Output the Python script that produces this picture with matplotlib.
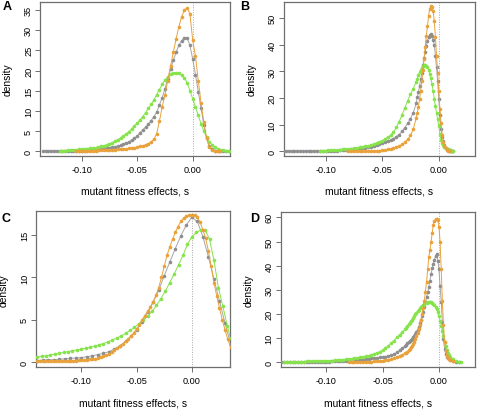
import numpy as np
import matplotlib
matplotlib.use("Agg")
from matplotlib import pyplot as plt

nan = np.nan

# ---------------- panel A ----------------
A_S = [-0.135, -0.1325, -0.13, -0.1275, -0.125, -0.1225, -0.12, -0.1175, -0.115, -0.1125,
       -0.11, -0.1075, -0.105, -0.1025, -0.1, -0.0975, -0.095, -0.0925, -0.09, -0.0875,
       -0.085, -0.0825, -0.08, -0.0775, -0.075, -0.0725, -0.07, -0.0675, -0.065, -0.0625,
       -0.06, -0.0575, -0.055, -0.0525, -0.05, -0.0475, -0.045, -0.0425, -0.04, -0.0375,
       -0.035, -0.0325, -0.03, -0.0275, -0.025, -0.0225, -0.02, -0.0175, -0.015, -0.0125,
       -0.01, -0.0075, -0.005, -0.0025, 0.0, 0.0025, 0.005, 0.0075, 0.01, 0.0125,
       0.015, 0.0175, 0.02, 0.0225, 0.025, 0.0275, 0.03, 0.0325]
A_orange = [nan, nan, nan, nan, nan, nan, nan, nan, nan, nan,
            nan, nan, 0.1, 0.1, 0.1, 0.15, 0.15, 0.2, 0.2, 0.2,
            0.25, 0.25, 0.3, 0.3, 0.35, 0.4, 0.4, 0.45, 0.5, 0.55,
            0.6, 0.7, 0.8, 0.9, 1.0, 1.2, 1.4, 1.6, 1.9, 2.3,
            3.0, 4.3, 7.5, 11.0, 14.0, 17.5, 21.0, 24.5, 27.8, 30.8,
            33.3, 35.0, 35.5, 34.0, 27.5, 23.5, 17.5, 12.0, 7.3, 3.2,
            1.0, 0.3, 0.1, 0.05, 0.0, nan, nan, nan]
A_gray = [0.05, 0.05, 0.05, 0.05, 0.08, 0.08, 0.1, 0.1, 0.1, 0.1,
          0.12, 0.12, 0.14, 0.15, 0.17, 0.2, 0.22, 0.25, 0.3, 0.35,
          0.4, 0.45, 0.55, 0.7, 0.85, 1.0, 1.1, 1.25, 1.45, 1.7,
          2.0, 2.4, 2.75, 3.2, 3.8, 4.6, 5.3, 6.0, 6.7, 7.6,
          8.6, 9.7, 11.5, 13.3, 15.5, 17.9, 20.3, 22.5, 24.5, 26.2,
          27.4, 28.1, 28.1, 26.2, 22.8, 19.0, 14.8, 10.6, 6.6, 3.2,
          1.3, 0.5, 0.2, 0.1, 0.05, 0.0, 0.0, 0.0]
A_green = [nan, nan, nan, nan, nan, nan, 0.1, 0.15, 0.2, 0.25,
           0.3, 0.35, 0.4, 0.45, 0.5, 0.55, 0.6, 0.7, 0.8, 0.9,
           1.05, 1.2, 1.4, 1.6, 1.85, 2.15, 2.5, 2.9, 3.3, 3.8,
           4.3, 4.9, 5.6, 6.3, 7.0, 7.8, 8.6, 9.6, 10.6, 11.6,
           12.7, 14.0, 15.3, 16.6, 17.6, 18.5, 19.1, 19.4, 19.5, 19.4,
           19.0, 18.2, 16.9, 15.0, 13.0, 11.0, 8.9, 6.8, 5.0, 3.5,
           2.4, 1.6, 1.0, 0.6, 0.4, 0.3, 0.2, 0.2]

# ---------------- panel B ----------------
B_S = [-0.14, -0.1375, -0.135, -0.1325, -0.13, -0.1275, -0.125, -0.1225, -0.12, -0.1175,
       -0.115, -0.1125, -0.11, -0.1075, -0.105, -0.1025, -0.1, -0.0975, -0.095, -0.0925,
       -0.09, -0.0875, -0.085, -0.0825, -0.08, -0.0775, -0.075, -0.0725, -0.07, -0.0675,
       -0.065, -0.0625, -0.06, -0.0575, -0.055, -0.0525, -0.05, -0.0475, -0.045, -0.0425,
       -0.04, -0.0375, -0.035, -0.0325, -0.03, -0.0275, -0.025, -0.0225, -0.02,
       -0.019, -0.018, -0.017, -0.016, -0.015, -0.014, -0.013, -0.012, -0.011, -0.01,
       -0.009, -0.008, -0.007, -0.006, -0.005, -0.004, -0.003, -0.002, -0.001, 0.0,
       0.001, 0.002, 0.003, 0.004, 0.005, 0.006, 0.007, 0.008, 0.009, 0.01,
       0.011, 0.012, 0.013]
B_orange = [nan, nan, nan, nan, nan, nan, nan, nan, nan, nan,
            nan, nan, nan, nan, nan, nan, nan, nan, nan, nan,
            nan, nan, nan, nan, 0.05, 0.05, 0.05, 0.06, 0.07, 0.08,
            0.1, 0.1, 0.12, 0.15, 0.22, 0.3, 0.4, 0.55, 0.75, 1.0,
            1.3, 1.6, 2.0, 2.6, 3.4, 4.5, 6.0, 8.3, 12.5,
            14.3, 16.8, 19.5, 22.7, 26.5, 30.5, 34.8, 39.3, 43.5, 47.0,
            51.0, 53.5, 54.6, 54.3, 52.8, 49.0, 43.0, 36.0, 29.5, 22.5,
            16.0, 10.5, 6.2, 3.6, 2.1, 1.2, 0.6, 0.3, 0.15, 0.1,
            nan, nan, nan]
B_gray = [0.05, 0.05, 0.05, 0.06, 0.06, 0.07, 0.08, 0.08, 0.09, 0.1,
          0.1, 0.12, 0.13, 0.15, 0.17, 0.19, 0.2, 0.22, 0.25, 0.28,
          0.3, 0.35, 0.4, 0.45, 0.6, 0.7, 0.8, 0.9, 1.0, 1.1,
          1.25, 1.45, 1.7, 2.1, 2.4, 2.8, 3.1, 3.5, 3.9, 4.3,
          4.8, 5.5, 6.3, 7.5, 8.9, 10.5, 12.3, 14.5, 18.0,
          20.3, 22.2, 24.5, 27.0, 29.5, 32.3, 35.0, 37.5, 39.7, 41.5,
          42.8, 43.8, 44.0, 43.5, 42.0, 40.0, 36.0, 31.5, 26.5, 19.5,
          13.5, 8.4, 5.5, 3.7, 2.2, 1.3, 0.9, 0.6, 0.45, 0.35,
          0.25, 0.15, 0.1]
B_green = [nan, nan, nan, nan, nan, nan, nan, nan, nan, nan,
           nan, nan, nan, nan, 0.2, 0.25, 0.3, 0.35, 0.4, 0.45,
           0.5, 0.6, 0.7, 0.8, 0.9, 1.0, 1.15, 1.3, 1.5, 1.7,
           1.9, 2.1, 2.4, 2.8, 3.2, 3.6, 4.0, 4.6, 5.3, 6.0,
           7.2, 9.0, 11.2, 13.6, 16.3, 19.0, 21.5, 23.6, 26.0,
           27.3, 28.6, 29.7, 30.6, 31.4, 32.0, 32.3, 32.4, 32.2, 31.6,
           30.6, 29.2, 27.4, 25.3, 22.8, 19.8, 17.0, 14.5, 12.0, 9.5,
           6.5, 4.3, 3.0, 2.3, 1.8, 1.3, 1.0, 0.7, 0.5, 0.35,
           0.25, 0.15, 0.1]

# ---------------- panel C ----------------
C_S = [-0.14, -0.1375, -0.135, -0.1325, -0.13, -0.1275, -0.125, -0.1225, -0.12, -0.1175,
       -0.115, -0.1125, -0.11, -0.1075, -0.105, -0.1025, -0.1, -0.0975, -0.095, -0.0925,
       -0.09, -0.0875, -0.085, -0.0825, -0.08, -0.0775, -0.075, -0.0725, -0.07, -0.0675,
       -0.065, -0.0625, -0.06, -0.0575, -0.055, -0.0525, -0.05, -0.0475, -0.045, -0.0425,
       -0.04, -0.0375, -0.035, -0.0325, -0.03, -0.0275, -0.025, -0.0225, -0.02, -0.0175,
       -0.015, -0.0125, -0.01, -0.0075, -0.005, -0.0025, 0.0, 0.0025, 0.005, 0.0075,
       0.01, 0.0125, 0.015, 0.0175, 0.02, 0.0225, 0.025, 0.0275, 0.03, 0.0325, 0.035]
C_orange = [0.1, 0.1, 0.1, 0.1, 0.1, 0.1, 0.1, 0.12, 0.12, 0.14,
            0.15, 0.16, 0.18, 0.2, 0.2, 0.22, 0.25, 0.28, 0.3, 0.33,
            0.37, 0.42, 0.5, 0.58, 0.68, 0.8, 0.95, 1.15, 1.4, 1.65,
            1.9, 2.15, 2.45, 2.75, 3.1, 3.5, 3.9, 4.4, 5.0, 5.5,
            6.0, 6.5, 7.1, 7.9, 8.8, 10.0, 11.3, 12.6, 13.6, 14.5,
            15.3, 16.0, 16.6, 17.0, 17.2, 17.35, 17.4, 17.4, 17.1, 16.5,
            15.6, 14.6, 13.1, 11.3, 9.4, 7.8, 6.4, 5.0, 3.8, 2.7, 1.8]
C_S_gray = [-0.14, -0.135, -0.13, -0.125, -0.12, -0.115, -0.11, -0.105, -0.1, -0.095,
            -0.09, -0.085, -0.08, -0.075, -0.07, -0.065, -0.06, -0.055, -0.05, -0.045,
            -0.04, -0.035, -0.03, -0.025, -0.02, -0.015, -0.01, -0.005, 0.0, 0.005,
            0.01, 0.015, 0.02, 0.025, 0.03, 0.035]
C_gray = [0.2, 0.25, 0.3, 0.3, 0.35, 0.4, 0.45, 0.5, 0.55, 0.65,
          0.75, 0.9, 1.05, 1.25, 1.55, 1.95, 2.45, 3.05, 3.85, 4.8,
          5.9, 7.1, 8.5, 10.2, 11.8, 13.4, 14.9, 16.2, 17.1, 16.6,
          14.8, 12.4, 9.8, 7.2, 4.6, 2.2]
C_S_green = [-0.14, -0.136, -0.132, -0.128, -0.124, -0.12, -0.116, -0.112, -0.108, -0.104,
             -0.1, -0.096, -0.092, -0.088, -0.084, -0.08, -0.076, -0.072, -0.068, -0.064,
             -0.06, -0.056, -0.052, -0.048, -0.044, -0.04, -0.036, -0.032, -0.028, -0.024,
             -0.02, -0.016, -0.012, -0.008, -0.004, 0.0, 0.004, 0.008, 0.012, 0.016,
             0.02, 0.024, 0.028, 0.032, 0.035]
C_green = [0.6, 0.7, 0.75, 0.85, 0.95, 1.05, 1.15, 1.25, 1.35, 1.45,
           1.55, 1.65, 1.75, 1.9, 2.05, 2.2, 2.4, 2.6, 2.85, 3.1,
           3.4, 3.75, 4.1, 4.55, 5.0, 5.4, 6.0, 6.7, 7.5, 8.4,
           9.4, 10.4, 11.5, 12.6, 13.9, 14.8, 15.3, 15.6, 15.6, 14.5,
           12.0, 8.8, 6.6, 4.3, 2.8]

# ---------------- panel D ----------------
D_S = [-0.14, -0.1375, -0.135, -0.1325, -0.13, -0.1275, -0.125, -0.1225, -0.12, -0.1175,
       -0.115, -0.1125, -0.11, -0.1075, -0.105, -0.1025, -0.1, -0.0975, -0.095, -0.0925,
       -0.09, -0.0875, -0.085, -0.0825, -0.08, -0.0775, -0.075, -0.0725, -0.07, -0.0675,
       -0.065, -0.0625, -0.06, -0.0575, -0.055, -0.0525, -0.05, -0.0475, -0.045, -0.0425,
       -0.04, -0.0375, -0.035, -0.0325, -0.03,
       -0.029, -0.028, -0.027, -0.026, -0.025, -0.024, -0.023, -0.022, -0.021, -0.02,
       -0.019, -0.018, -0.017, -0.016, -0.015, -0.014, -0.013, -0.012, -0.011, -0.01,
       -0.009, -0.008, -0.007, -0.006, -0.005, -0.004, -0.003, -0.002, -0.001, 0.0,
       0.001, 0.002, 0.003, 0.004, 0.005, 0.006, 0.007, 0.008, 0.009, 0.01,
       0.0125, 0.015, 0.0175, 0.02]
D_orange = [nan, nan, nan, nan, nan, nan, nan, nan, nan, nan,
            nan, nan, nan, nan, nan, nan, nan, nan, nan, nan,
            nan, nan, nan, nan, 0.1, 0.1, 0.12, 0.14, 0.16, 0.18,
            0.2, 0.25, 0.3, 0.35, 0.45, 0.55, 0.7, 0.85, 1.05, 1.35,
            1.8, 2.2, 2.6, 3.1, 3.8,
            4.0, 4.4, 4.9, 5.5, 6.2, 6.9, 7.6, 8.6, 9.6, 10.8,
            12.2, 13.8, 15.6, 17.6, 19.8, 22.5, 25.5, 29.3, 33.3, 38.5,
            43.5, 46.5, 50.0, 53.5, 57.0, 58.5, 59.3, 59.5, 58.8, 56.0,
            50.0, 38.5, 25.5, 15.5, 8.5, 4.8, 2.7, 1.8, 1.3, 1.0,
            0.6, nan, nan, nan]
D_gray = [0.1, 0.1, 0.1, 0.1, 0.1, 0.12, 0.12, 0.13, 0.14, 0.15,
          0.16, 0.18, 0.2, 0.22, 0.24, 0.27, 0.3, 0.33, 0.36, 0.4,
          0.44, 0.48, 0.53, 0.6, 0.67, 0.75, 0.85, 0.95, 1.05, 1.15,
          1.3, 1.45, 1.6, 1.75, 1.9, 2.05, 2.2, 2.4, 2.6, 2.9,
          3.4, 4.1, 4.9, 5.8, 6.9,
          7.3, 7.8, 8.2, 8.7, 9.2, 9.7, 10.3, 10.9, 11.6, 12.4,
          13.3, 14.6, 16.2, 17.6, 19.2, 20.7, 22.8, 24.8, 26.9, 29.0,
          31.3, 33.8, 36.5, 39.0, 40.7, 42.5, 44.0, 45.0, 42.0, 38.5,
          31.5, 25.0, 16.5, 9.5, 5.5, 3.6, 2.4, 1.7, 1.3, 1.0,
          0.5, 0.2, 0.05, nan]
D_green = [nan, 0.2, 0.2, 0.22, 0.24, 0.26, 0.28, 0.3, 0.32, 0.35,
           0.38, 0.41, 0.44, 0.48, 0.52, 0.56, 0.6, 0.66, 0.72, 0.8,
           0.88, 0.97, 1.07, 1.18, 1.3, 1.45, 1.6, 1.8, 2.0, 2.25,
           2.5, 2.8, 3.1, 3.5, 3.9, 4.4, 5.0, 5.8, 6.8, 7.9,
           9.0, 10.3, 11.4, 12.5, 13.8,
           14.4, 15.1, 15.7, 16.4, 17.0, 17.7, 18.4, 19.1, 19.8, 20.5,
           21.2, 21.8, 22.4, 22.9, 23.4, 23.8, 24.2, 24.5, 24.7, 24.8,
           24.9, 24.9, 24.8, 24.6, 24.3, 23.8, 23.0, 22.0, 20.7, 19.0,
           17.2, 15.2, 13.0, 10.7, 8.5, 6.6, 5.0, 3.8, 2.9, 2.2,
           1.2, 0.5, 0.2, 0.1]

X_TICKS = [-0.10, -0.05, 0.00]
X_LABELS = ["-0.10", "-0.05", "0.00"]

ORANGE = "#E9A23B"
GRAY = "#8E8E8E"
GREEN = "#86E34C"
FRAME = "#6E6E6E"

plt.rcParams["font.family"] = ["Liberation Sans", "DejaVu Sans"]

W, H = 478, 410
fig = plt.figure(figsize=(W / 100, H / 100), dpi=100)


def make_axes(left, top, right, bottom):
    # pixel box -> figure fraction
    ax = fig.add_axes([left / W, 1 - bottom / H, (right - left) / W, (bottom - top) / H])
    return ax, right - left, bottom - top


def draw_panel(box, curves, xlim, ylim, yticks, letter, letter_xy):
    ax, wpx, hpx = make_axes(*box)
    ax.axvline(0, color="#A8A8A8", ls=(0, (1, 1.5)), lw=0.7, zorder=1)
    for xs, ys, col, lcol in curves:
        ax.plot(xs, ys, color=lcol, lw=0.7, marker="o", ms=2.6,
                mfc=col, mec=col, mew=0, zorder=3)
    ax.set_xlim(*xlim)
    ax.set_ylim(*ylim)
    ax.set_xticks(X_TICKS, X_LABELS)
    ax.set_yticks(yticks, [str(v) for v in yticks])
    ax.tick_params(axis="both", length=3.6, width=0.7, color=FRAME, labelsize=6.6)
    ax.tick_params(axis="x", pad=3.0)
    ax.tick_params(axis="y", pad=1.4, labelrotation=90)
    for lab in ax.get_yticklabels():
        lab.set_va("center")
    for sp in ax.spines.values():
        sp.set_color(FRAME)
        sp.set_linewidth(0.9)
    ax.set_xlabel("mutant fitness effects, s", fontsize=7.4)
    ax.set_ylabel("density", fontsize=7.4)
    ax.xaxis.set_label_coords(0.5, -30 / hpx)
    ax.yaxis.set_label_coords(-27.5 / wpx, 0.5)
    fig.text(letter_xy[0] / W, 1 - letter_xy[1] / H, letter, fontsize=9,
             fontweight="bold", ha="left", va="baseline")
    return ax


draw_panel((40, 3, 230, 157),
           [(A_S, A_gray, GRAY, "#A6A6A6"), (A_S, A_green, GREEN, GREEN),
            (A_S, A_orange, ORANGE, ORANGE)],
           (-0.1376, 0.0336), (-1.16, 36.96), [0, 5, 10, 15, 20, 25, 30, 35],
           "A", (3, 10))
draw_panel((283.7, 3, 475, 157),
           [(B_S, B_gray, GRAY, "#A6A6A6"), (B_S, B_green, GREEN, GREEN),
            (B_S, B_orange, ORANGE, ORANGE)],
           (-0.137, 0.032), (-1.75, 56.1), [0, 10, 20, 30, 40, 50],
           "B", (240, 10))
draw_panel((36, 212.3, 230, 368.3),
           [(C_S_gray, C_gray, GRAY, "#A6A6A6"), (C_S_green, C_green, GREEN, GREEN),
            (C_S, C_orange, ORANGE, ORANGE)],
           (-0.141, 0.0345), (-0.6, 17.8), [0, 5, 10, 15],
           "C", (2, 222))
draw_panel((280.7, 213.3, 475, 368.3),
           [(D_S, D_gray, GRAY, "#A6A6A6"), (D_S, D_green, GREEN, GREEN),
            (D_S, D_orange, ORANGE, ORANGE)],
           (-0.1405, 0.032), (-2.07, 62.1), [0, 10, 20, 30, 40, 50, 60],
           "D", (250, 222))

fig.savefig("out.png", dpi=100)
